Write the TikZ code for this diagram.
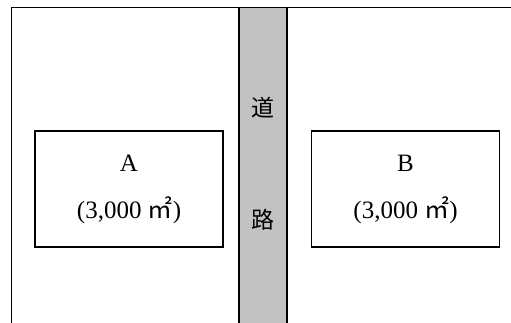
\documentclass[tikz,border=0pt]{standalone}
\usepackage{fontspec}
\setmainfont{Liberation Serif}
\newfontfamily\cjk{Noto Sans CJK JP}
\begin{document}
\begin{tikzpicture}[x=1pt,y=-1pt,
  plot/.style={draw=black,line width=1.8pt,fill=white,minimum width=188pt,minimum height=116pt,
    align=center,font=\fontsize{25}{47}\selectfont,inner sep=0pt},
  roadtext/.style={font=\cjk\fontsize{23}{23}\selectfont,inner sep=0pt}]
\useasboundingbox (0,0) rectangle (511,323);
% road
\fill[gray!50!white,fill=black!24] (239,7.5) rectangle (287,330);
\draw[line width=1.8pt] (239,7.5) -- (239,330) (287,7.5) -- (287,330);
% outer boundary
\draw[line width=1.8pt] (11.5,330) -- (11.5,7.5) -- (520,7.5);
% plots
\node[plot] (A) at (129,189) {A\\(3,000 {\cjk ㎡})};
\node[plot] (B) at (405.5,189) {B\\(3,000 {\cjk ㎡})};
% road labels
\node[roadtext] (r1) at (263,108) {道};
\node[roadtext] (r2) at (263,220) {路};
\end{tikzpicture}
\end{document}
